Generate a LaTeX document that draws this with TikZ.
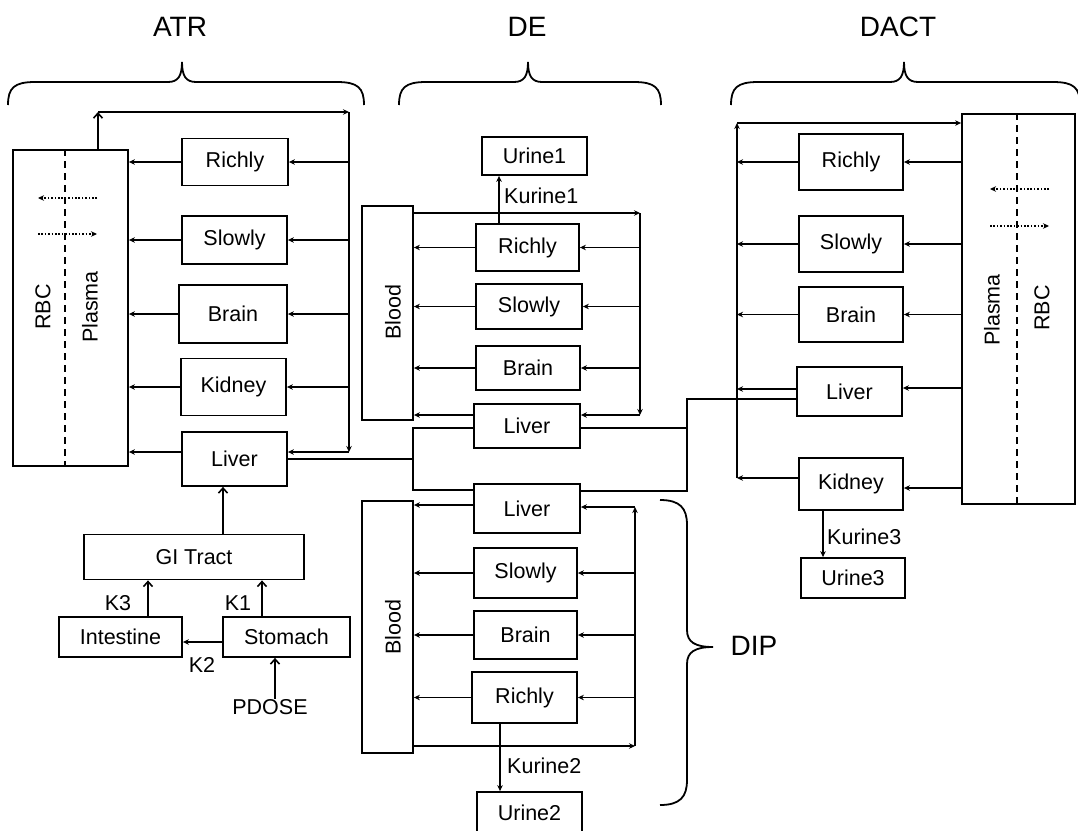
\documentclass[tikz,border=0pt]{standalone}
\usepackage{fontspec}
\setmainfont{Liberation Sans}
\usetikzlibrary{arrows.meta,calc}
\begin{document}
\begin{tikzpicture}[x=1pt,y=-1pt,
  every node/.style={font=\fontsize{21.5}{24}\selectfont, inner sep=0pt},
  box/.style={draw, line width=1.8pt, rectangle, inner sep=0pt},
  ln/.style={line width=1.8pt},
  arr/.style={line width=1.8pt, -{Stealth[length=6pt,width=5.5pt]}},
  uarr/.style={line width=1.8pt, -{Straight Barb[length=5pt,width=9pt,line width=1.6pt]}},
  dotarr/.style={line width=1.6pt, dash pattern=on 1.6pt off 1.8pt, -{Stealth[length=6pt,width=5.5pt]}},
  dashln/.style={line width=1.8pt, dash pattern=on 7pt off 5pt},
  title/.style={font=\fontsize{28}{32}\selectfont},
  brace/.style={line width=1.8pt}
]
\useasboundingbox (0,0) rectangle (1078,830);

% ---------- titles and braces ----------
\node[title] (tATR) at (180,27) {ATR};
\node[title] (tDE) at (527,27) {DE};
\node[title] (tDACT) at (898,27) {DACT};
\node[title] (tDIP) at (754,646) {DIP};
\draw[brace] (8,105) .. controls (8,88) and (14,82) .. (35,82) -- (168,82) .. controls (178,82) and (182,76) .. (182,62) .. controls (182,76) and (186,82) .. (196,82) -- (337,82) .. controls (358,82) and (364,88) .. (364,105);
\draw[brace] (399,105) .. controls (399,88) and (405,82) .. (426,82) -- (514,82) .. controls (524,82) and (528,76) .. (528,62) .. controls (528,76) and (532,82) .. (542,82) -- (634,82) .. controls (655,82) and (661,88) .. (661,105);
\draw[brace] (731,105) .. controls (731,88) and (737,82) .. (758,82) -- (890,82) .. controls (900,82) and (904,76) .. (904,62) .. controls (904,76) and (908,82) .. (918,82) -- (1053,82) .. controls (1074,82) and (1080,88) .. (1080,105);
\draw[brace] (660,500) .. controls (680,500) and (687,508) .. (687,525) -- (687,630) .. controls (687,642) and (695,647) .. (713,647) .. controls (695,647) and (687,652) .. (687,664) -- (687,780) .. controls (687,797) and (680,805) .. (660,805);

% ---------- ATR ----------
\node[box, minimum width=115pt, minimum height=316pt] (atrBox) at (70.5,308) {};
\draw[dashln] (atrBox.north -| 65,0) -- (atrBox.south -| 65,0);
\node[rotate=90] (atrRBC) at (43,307) {RBC};
\node[rotate=90] (atrPlasma) at (90,307) {Plasma};
\draw[dotarr] (97,198) -- (38,198);
\draw[dotarr] (38,234) -- (97,234);

\node[box, minimum width=106pt, minimum height=47pt] (aRichly) at (235,162) {Richly};
\node[box, minimum width=105pt, minimum height=48pt] (aSlowly) at (234.5,240) {Slowly};
\node[box, minimum width=108pt, minimum height=58pt] (aBrain) at (233,314) {Brain};
\node[box, minimum width=105pt, minimum height=57pt] (aKidney) at (233.5,387) {Kidney};
\node[box, minimum width=105pt, minimum height=54pt] (aLiver) at (234.5,459) {Liver};

\coordinate (atrTL) at (98,112);
\coordinate (atrTR) at (349,112);
\coordinate (atrBR) at (349,452);
\draw[uarr] (atrBox.north -| atrTL) -- (atrTL);
\draw[arr] (atrTL) -- (atrTR);
\draw[arr] (atrTR) -- (atrBR);
\foreach \n in {aRichly,aSlowly,aBrain,aKidney}{
  \draw[arr] (atrTR |- \n.east) -- (\n.east);
  \draw[arr] (\n.west) -- (atrBox.east |- \n.west);
}
\draw[arr] (atrBR) -- (aLiver.east |- atrBR);
\draw[arr] (aLiver.west |- atrBR) -- (atrBox.east |- atrBR);

% GI
\node[box, minimum width=220pt, minimum height=45pt] (giTract) at (194,557) {GI Tract};
\node[box, minimum width=123pt, minimum height=40pt] (intestine) at (120.5,637) {Intestine};
\node[box, minimum width=127pt, minimum height=40pt] (stomach) at (286.5,637) {Stomach};
\node (pdose) at (270,707) {PDOSE};
\draw[uarr] (giTract.north -| 223,0) -- (aLiver.south -| 223,0);
\draw[uarr] (intestine.north -| 148,0) -- (giTract.south -| 148,0);
\draw[uarr] (stomach.north -| 262,0) -- (giTract.south -| 262,0);
\draw[arr] (stomach.west |- 0,642) -- (intestine.east |- 0,642);
\draw[uarr] (pdose.north -| 275,0) -- (stomach.south -| 275,0);
\node (lK3) at (118,603) {K3};
\node (lK1) at (238,603) {K1};
\node (lK2) at (202,665) {K2};

% ---------- DE ----------
\node[box, minimum width=51pt, minimum height=214pt] (deBlood) at (387.5,313) {};
\node[rotate=90] (deBloodT) at (393,312) {Blood};
\node[box, minimum width=105pt, minimum height=38pt] (deUrine) at (534.5,156) {Urine1};
\node[box, minimum width=103pt, minimum height=47pt] (deRichly) at (527.5,247.5) {Richly};
\node[box, minimum width=106pt, minimum height=45pt] (deSlowly) at (529,306.5) {Slowly};
\node[box, minimum width=104pt, minimum height=44pt] (deBrain) at (528,368) {Brain};
\node[box, minimum width=106pt, minimum height=44pt] (deLiver) at (527,426) {Liver};

\coordinate (deTR) at (640,213);
\coordinate (deBR) at (640,415);
\draw[arr] (deBlood.east |- deTR) -- (deTR);
\draw[arr] (deTR) -- (deBR);
\foreach \n in {deRichly,deSlowly,deBrain}{
  \draw[arr] (deTR |- \n.east) -- (\n.east);
  \draw[arr] (\n.west) -- (deBlood.east |- \n.west);
}
\draw[arr] (deBR) -- (deLiver.east |- deBR);
\draw[arr] (deLiver.west |- deBR) -- (deBlood.east |- deBR);
\draw[arr] (deRichly.north -| 499,0) -- (deUrine.south -| 499,0);
\node[anchor=west] (lKu1) at (504,196) {Kurine1};

% ---------- DIP ----------
\node[box, minimum width=51pt, minimum height=252pt] (dpBlood) at (387.5,627) {};
\node[rotate=90] (dpBloodT) at (393,627) {Blood};
\node[box, minimum width=106pt, minimum height=49pt] (dpLiver) at (527,508.5) {Liver};
\node[box, minimum width=103pt, minimum height=50pt] (dpSlowly) at (525.5,573) {Slowly};
\node[box, minimum width=103pt, minimum height=48pt] (dpBrain) at (525.5,635) {Brain};
\node[box, minimum width=105pt, minimum height=51pt] (dpRichly) at (524.5,697.5) {Richly};
\node[box, minimum width=105pt, minimum height=42pt] (dpUrine) at (529.5,813) {Urine2};

\coordinate (dpBR) at (635,746);
\coordinate (dpTR) at (635,507);
\draw[arr] (dpBlood.east |- dpBR) -- (dpBR);
\draw[arr] (dpBR) -- (dpTR);
\foreach \n in {dpSlowly,dpBrain,dpRichly}{
  \draw[arr] (dpTR |- \n.east) -- (\n.east);
  \draw[arr] (\n.west) -- (dpBlood.east |- \n.west);
}
\draw[arr] (dpTR) -- (dpLiver.east |- dpTR);
\draw[arr] (dpLiver.west |- 0,505) -- (dpBlood.east |- 0,505);
\draw[arr] (dpRichly.south -| 500,0) -- (dpUrine.north -| 500,0);
\node[anchor=west] (lKu2) at (507,766) {Kurine2};

% ---------- DACT ----------
\node[box, minimum width=113pt, minimum height=390pt] (dcBox) at (1018.5,309) {};
\draw[dashln] (dcBox.north -| 1017,0) -- (dcBox.south -| 1017,0);
\node[rotate=90] (dcPlasma) at (992,310) {Plasma};
\node[rotate=90] (dcRBC) at (1042,308) {RBC};
\draw[dotarr] (1049,189) -- (990,189);
\draw[dotarr] (990,226) -- (1049,226);

\node[box, minimum width=104pt, minimum height=56pt] (dcRichly) at (851,162) {Richly};
\node[box, minimum width=104pt, minimum height=56pt] (dcSlowly) at (851,244) {Slowly};
\node[box, minimum width=104pt, minimum height=55pt] (dcBrain) at (851,314.5) {Brain};
\node[box, minimum width=105pt, minimum height=49pt] (dcLiver) at (849.5,391.5) {Liver};
\node[box, minimum width=104pt, minimum height=52pt] (dcKidney) at (851,484) {Kidney};
\node[box, minimum width=104pt, minimum height=40pt] (dcUrine) at (853,578) {Urine3};

\coordinate (dcTL) at (737,123);
\coordinate (dcBL) at (737,478);
\draw[arr] (dcBL) -- (dcTL);
\draw[arr] (dcTL) -- (dcBox.west |- dcTL);
\foreach \n in {dcRichly,dcSlowly,dcBrain}{
  \draw[arr] (dcBox.west |- \n.east) -- (\n.east);
  \draw[arr] (\n.west) -- (dcTL |- \n.west);
}
\draw[arr] (dcBox.west |- 0,388) -- (dcLiver.east |- 0,388);
\draw[arr] (dcLiver.west |- 0,389) -- (dcTL |- 0,389);
\draw[arr] (dcBox.west |- 0,488) -- (dcKidney.east |- 0,488);
\draw[arr] (dcKidney.west |- dcBL) -- (dcBL);
\draw[arr] (dcKidney.south -| 823,0) -- (dcUrine.north -| 823,0);
\node[anchor=west] (lKu3) at (827,537) {Kurine3};

% ---------- liver connections ----------
\draw[ln] (aLiver.east |- 0,459) -- (413,459);
\draw[ln] (deLiver.west |- 0,428) -| (413,490) -- (dpLiver.west |- 0,490);
\draw[ln] (deLiver.east |- 0,428) -- (687,428);
\draw[ln] (dcLiver.west |- 0,399) -| (687,491) -- (dpLiver.east |- 0,491);
\end{tikzpicture}
\end{document}
